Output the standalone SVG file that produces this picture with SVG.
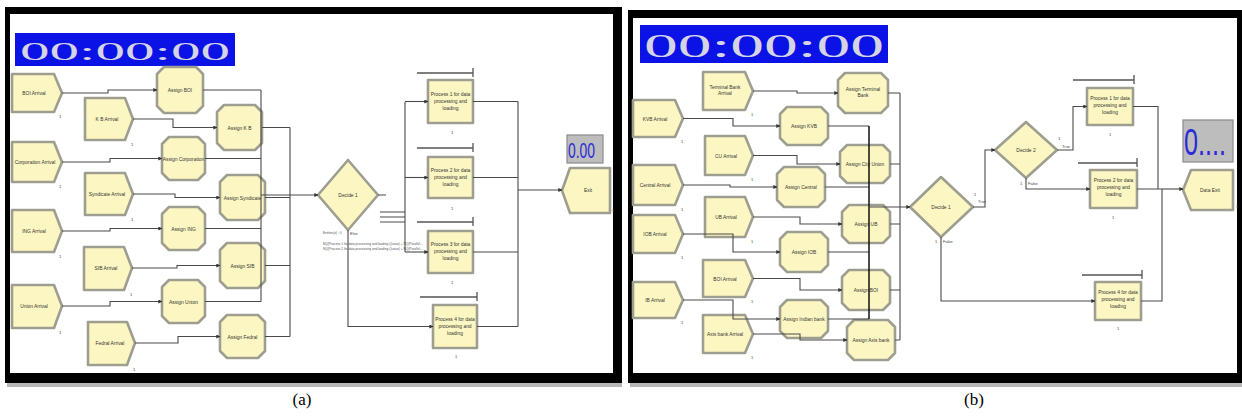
<svg xmlns="http://www.w3.org/2000/svg" width="1242" height="416" viewBox="0 0 1242 416">
<style>
.nd{fill:#fcf7c2;stroke:#9e9e90;stroke-width:2.6;stroke-linejoin:round}
.cn{fill:none;stroke:#4a4a4a;stroke-width:1.1}
.dk{fill:none;stroke:#111;stroke-width:1.5}
.q{fill:none;stroke:#555;stroke-width:1.3}
.lb{font-family:"Liberation Sans Narrow","Liberation Sans",sans-serif;font-size:4.9px;fill:#333;text-anchor:middle}
.sm{font-family:"Liberation Sans",sans-serif;font-size:4px;fill:#444}
.tiny{font-family:"Liberation Sans Narrow","Liberation Sans",sans-serif;font-size:3.2px;fill:#555}
.clk{fill:#0a12e6}
.clkt{font-family:"Liberation Serif",serif;fill:#d4d4e4}
.disp{fill:#bdbdbd;stroke:#8a8a8a;stroke-width:1.2}
.dispt{font-family:"Liberation Sans Narrow","Liberation Sans",sans-serif;fill:#2a2ad8}
.cap{font-family:"Liberation Serif",serif;font-size:17px;fill:#000;text-anchor:middle}
</style>
<defs>
<marker id="ar" viewBox="0 0 6 6" refX="5.5" refY="3" markerWidth="4" markerHeight="4" orient="auto" markerUnits="userSpaceOnUse">
<path d="M0,0 L6,3 L0,6 z" fill="#333"/>
</marker>
</defs>
<rect width="1242" height="416" fill="#fff"/>
<!-- frames -->
<g id="frame-a">
<rect x="7" y="383" width="615" height="4" fill="#b8b8b8"/>
<path d="M5,7 H622 V383 H5 Z M10,14 V373 H613 V14 Z" fill="#000" fill-rule="evenodd"/>
</g>
<g id="frame-b">
<rect x="630" y="383" width="612" height="4" fill="#b8b8b8"/>
<path d="M628,10 H1242 V383 H628 Z M633,18 V373 H1237 V18 Z" fill="#000" fill-rule="evenodd"/>
</g>
<!-- clocks -->
<g id="clock-a">
<rect class="clk" x="15" y="33" width="220" height="33"/>
<text class="clkt" x="20" y="60" font-size="26" textLength="210" lengthAdjust="spacingAndGlyphs">00:00:00</text>
</g>
<g id="clock-b">
<rect class="clk" x="640" y="25" width="248" height="38"/>
<text class="clkt" x="644" y="57" font-size="34" textLength="240" lengthAdjust="spacingAndGlyphs">00:00:00</text>
</g>
<!-- displays -->
<g id="disp-a">
<rect class="disp" x="567" y="135" width="36" height="28"/>
<text class="dispt" x="568" y="158" font-size="22" textLength="27" lengthAdjust="spacingAndGlyphs">0.00</text>
</g>
<g id="disp-b">
<rect class="disp" x="1183" y="120" width="50" height="42"/>
<text class="dispt" x="1184" y="155" font-size="36" textLength="42" lengthAdjust="spacingAndGlyphs">0....</text>
</g>

<!-- Panel A nodes -->
<g id="a-arr-boi"><polygon class="nd" points="12,74 54,74 62,93 54,112 12,112"/><text class="lb" x="34" y="95">BOI Arrival</text><text class="sm" x="59" y="118">1</text></g>
<g id="a-arr-kb"><polygon class="nd" points="85,98 125,98 133,119 125,140 85,140"/><text class="lb" x="107" y="121">K B Arrival</text><text class="sm" x="131" y="146">1</text></g>
<g id="a-arr-corp"><polygon class="nd" points="12,142 54,142 62,162 54,182 12,182"/><text class="lb" x="35" y="164">Corporation Arrival</text><text class="sm" x="59" y="188">1</text></g>
<g id="a-arr-syn"><polygon class="nd" points="85,173 125,173 133,194 125,215 85,215"/><text class="lb" x="107" y="196">Syndicate Arrival</text><text class="sm" x="131" y="221">1</text></g>
<g id="a-arr-ing"><polygon class="nd" points="12,210 54,210 62,231 54,252 12,252"/><text class="lb" x="34" y="233">ING Arrival</text><text class="sm" x="59" y="258">1</text></g>
<g id="a-arr-sib"><polygon class="nd" points="84,247 124,247 132,268 124,290 84,290"/><text class="lb" x="106" y="270">SIB Arrival</text><text class="sm" x="130" y="296">1</text></g>
<g id="a-arr-union"><polygon class="nd" points="12,285 54,285 62,306 54,328 12,328"/><text class="lb" x="34" y="308">Union Arrival</text><text class="sm" x="59" y="334">1</text></g>
<g id="a-arr-fed"><polygon class="nd" points="88,322 127,322 135,343 127,365 88,365"/><text class="lb" x="110" y="345">Fedral Arrival</text><text class="sm" x="133" y="371">1</text></g>

<g id="a-as-boi"><polygon class="nd" points="164,67 196,67 203,74 203,106 196,113 164,113 157,106 157,74"/><text class="lb" x="180" y="92">Assign BOI</text></g>
<g id="a-as-kb"><polygon class="nd" points="224,105 255,105 262,112 262,143 255,150 224,150 217,143 217,112"/><text class="lb" x="239.5" y="129.5">Assign K B</text></g>
<g id="a-as-corp"><polygon class="nd" points="169,137 198,137 205,144 205,173 198,180 169,180 162,173 162,144"/><text class="lb" x="183.5" y="160.5">Assign Corporation</text></g>
<g id="a-as-syn"><polygon class="nd" points="227,175 258,175 265,182 265,213 258,220 227,220 220,213 220,182"/><text class="lb" x="242.5" y="199.5">Assign Syndicate</text></g>
<g id="a-as-ing"><polygon class="nd" points="169,207 198,207 205,214 205,243 198,250 169,250 162,243 162,214"/><text class="lb" x="183.5" y="230.5">Assign ING</text></g>
<g id="a-as-sib"><polygon class="nd" points="227,243 258,243 265,250 265,281 258,288 227,288 220,281 220,250"/><text class="lb" x="242.5" y="267.5">Assign SIB</text></g>
<g id="a-as-union"><polygon class="nd" points="169,280 198,280 205,287 205,316 198,323 169,323 162,316 162,287"/><text class="lb" x="183.5" y="303.5">Assign Union</text></g>
<g id="a-as-fed"><polygon class="nd" points="227,315 258,315 265,322 265,351 258,358 227,358 220,351 220,322"/><text class="lb" x="242.5" y="338.5">Assign Fedral</text></g>

<g id="a-decide1"><polygon class="nd" points="348,160 378,195 348,230 318,195"/><text class="lb" x="348" y="197">Decide 1</text><text class="sm" x="350" y="235">Else</text>
<text class="tiny" x="323" y="234">Entities(x) : 0</text>
<text class="tiny" x="323" y="245">NQ(Process 1 for data processing and loading.Queue) + NQ(Parallel...</text>
<text class="tiny" x="323" y="250">NQ(Process 2 for data processing and loading.Queue) + NQ(Parallel...</text></g>

<g id="a-p1"><rect class="nd" x="428" y="80" width="45" height="43"/><text class="lb" x="450.5" y="96">Process 1 for data</text><text class="lb" x="450.5" y="103">processing and</text><text class="lb" x="450.5" y="110">loading</text><text class="sm" x="451" y="134">1</text></g>
<g id="a-p2"><rect class="nd" x="428" y="157" width="45" height="41"/><text class="lb" x="450.5" y="172">Process 2 for data</text><text class="lb" x="450.5" y="179">processing and</text><text class="lb" x="450.5" y="186">loading</text><text class="sm" x="451" y="210">1</text></g>
<g id="a-p3"><rect class="nd" x="428" y="231" width="45" height="42"/><text class="lb" x="450.5" y="246">Process 3 for data</text><text class="lb" x="450.5" y="253">processing and</text><text class="lb" x="450.5" y="260">loading</text><text class="sm" x="451" y="284">1</text></g>
<g id="a-p4"><rect class="nd" x="433" y="305" width="44" height="43"/><text class="lb" x="455" y="321">Process 4 for data</text><text class="lb" x="455" y="328">processing and</text><text class="lb" x="455" y="335">loading</text><text class="sm" x="455" y="358">1</text></g>

<g id="a-exit"><polygon class="nd" points="562,190.5 570,168 610,168 610,213 570,213"/><text class="lb" x="588" y="192">Exit</text><text class="sm" x="612" y="212">1</text></g>

<!-- Panel B nodes -->
<g id="b-arr-tb"><polygon class="nd" points="703,72 745,72 753,91 745,110 703,110"/><text class="lb" x="725" y="89">Terminal Bank</text><text class="lb" x="725" y="95">Arrival</text><text class="sm" x="751" y="116">1</text></g>
<g id="b-arr-kvb"><polygon class="nd" points="633,100 675,100 683,118.5 675,137 633,137"/><text class="lb" x="655" y="120.5">KVB Arrival</text><text class="sm" x="681" y="143">1</text></g>
<g id="b-arr-cu"><polygon class="nd" points="705,136 745,136 753,155.5 745,175 705,175"/><text class="lb" x="726" y="157.5">CU Arrival</text><text class="sm" x="751" y="181">1</text></g>
<g id="b-arr-cen"><polygon class="nd" points="633,165 675,165 683,185 675,205 633,205"/><text class="lb" x="655" y="187">Central Arrival</text><text class="sm" x="681" y="211">1</text></g>
<g id="b-arr-ub"><polygon class="nd" points="705,197 745,197 753,217 745,237 705,237"/><text class="lb" x="726" y="219">UB Arrival</text><text class="sm" x="751" y="243">1</text></g>
<g id="b-arr-iob"><polygon class="nd" points="633,215 675,215 683,234 675,253 633,253"/><text class="lb" x="655" y="236">IOB Arrival</text><text class="sm" x="681" y="259">1</text></g>
<g id="b-arr-boi"><polygon class="nd" points="703,260 745,260 753,278.5 745,297 703,297"/><text class="lb" x="725" y="280.5">BOI Arrival</text><text class="sm" x="751" y="303">1</text></g>
<g id="b-arr-ib"><polygon class="nd" points="633,282 675,282 683,300 675,318 633,318"/><text class="lb" x="655" y="302">IB Arrival</text><text class="sm" x="681" y="324">1</text></g>
<g id="b-arr-axis"><polygon class="nd" points="703,315 745,315 753,334 745,353 703,353"/><text class="lb" x="725" y="336">Axis bank Arrival</text><text class="sm" x="751" y="359">1</text></g>

<g id="b-as-tb"><polygon class="nd" points="845,73 881,73 888,80 888,106 881,113 845,113 838,106 838,80"/><text class="lb" x="863" y="91">Assign Terminal</text><text class="lb" x="863" y="97">Bank</text></g>
<g id="b-as-kvb"><polygon class="nd" points="787,107 821,107 828,114 828,138 821,145 787,145 780,138 780,114"/><text class="lb" x="804" y="128">Assign KVB</text></g>
<g id="b-as-cu"><polygon class="nd" points="847,145 883,145 890,152 890,176 883,183 847,183 840,176 840,152"/><text class="lb" x="865" y="166">Assign City Union</text></g>
<g id="b-as-cen"><polygon class="nd" points="784,167 818,167 825,174 825,200 818,207 784,207 777,200 777,174"/><text class="lb" x="801" y="189">Assign Central</text></g>
<g id="b-as-ub"><polygon class="nd" points="849,205 883,205 890,212 890,236 883,243 849,243 842,236 842,212"/><text class="lb" x="866" y="226">Assign UB</text></g>
<g id="b-as-iob"><polygon class="nd" points="787,232 821,232 828,239 828,265 821,272 787,272 780,265 780,239"/><text class="lb" x="804" y="254">Assign IOB</text></g>
<g id="b-as-boi"><polygon class="nd" points="849,270 883,270 890,277 890,303 883,310 849,310 842,303 842,277"/><text class="lb" x="866" y="292">Assign BOI</text></g>
<g id="b-as-ib"><polygon class="nd" points="787,300 821,300 828,307 828,331 821,338 787,338 780,331 780,307"/><text class="lb" x="804" y="321">Assign Indian bank</text></g>
<g id="b-as-axis"><polygon class="nd" points="854,320 888,320 895,327 895,353 888,360 854,360 847,353 847,327"/><text class="lb" x="871" y="342">Assign Axis bank</text></g>

<g id="b-decide1"><polygon class="nd" points="941,177 973,207 941,237 910,207"/><text class="lb" x="941" y="209">Decide 1</text><text class="sm" x="974" y="196">1</text><text class="sm" x="978" y="203">True</text><text class="sm" x="935" y="243">1</text><text class="sm" x="943" y="243">False</text></g>
<g id="b-decide2"><polygon class="nd" points="1026,122 1057,150 1026,178 995,150"/><text class="lb" x="1026" y="152">Decide 2</text><text class="sm" x="1058" y="140">1</text><text class="sm" x="1062" y="148">True</text><text class="sm" x="1020" y="185">1</text><text class="sm" x="1028" y="185">False</text></g>

<g id="b-p1"><rect class="nd" x="1087" y="88" width="46" height="37"/><text class="lb" x="1110" y="100">Process 1 for data</text><text class="lb" x="1110" y="107">processing and</text><text class="lb" x="1110" y="114">loading</text><text class="sm" x="1109" y="136">1</text></g>
<g id="b-p2"><rect class="nd" x="1090" y="170" width="47" height="38"/><text class="lb" x="1113.5" y="182">Process 2 for data</text><text class="lb" x="1113.5" y="189">processing and</text><text class="lb" x="1113.5" y="196">loading</text><text class="sm" x="1112" y="219">1</text></g>
<g id="b-p4"><rect class="nd" x="1095" y="282" width="46" height="38"/><text class="lb" x="1118" y="294">Process 4 for data</text><text class="lb" x="1118" y="301">processing and</text><text class="lb" x="1118" y="308">loading</text><text class="sm" x="1117" y="330">1</text></g>

<g id="b-exit"><polygon class="nd" points="1183,190 1191,170 1233,170 1233,210 1191,210"/><text class="lb" x="1210" y="192">Data Exit</text><text class="sm" x="1236" y="208">1</text></g>

<!-- connectors -->
<g id="connectors">
<path class="cn" marker-end="url(#ar)" d="M62,93 H108 V90 H157"/>
<path class="cn" marker-end="url(#ar)" d="M133,119 H173 V127.5 H217"/>
<path class="cn" marker-end="url(#ar)" d="M62,162 H110 V158.5 H162"/>
<path class="cn" marker-end="url(#ar)" d="M133,194 H175 V197.5 H220"/>
<path class="cn" marker-end="url(#ar)" d="M62,231 H110 V228.5 H162"/>
<path class="cn" marker-end="url(#ar)" d="M132,268 H177 V265.5 H220"/>
<path class="cn" marker-end="url(#ar)" d="M62,306 H110 V301.5 H162"/>
<path class="cn" marker-end="url(#ar)" d="M135,343 H178 V336.5 H220"/>
<path class="cn" d="M203,90 H261 M205,158.5 H261 M205,228.5 H261 M205,301.5 H261 M261,90 V301.5"/>
<path class="cn" d="M262,127.5 H290 M265,197.5 H290 M265,265.5 H290 M265,336.5 H290 M290,127.5 V336.5"/>
<path class="cn" marker-end="url(#ar)" d="M261,195 H318"/>
<path class="cn" d="M378,195 H386 M380,212 H405 M380,217 H405 M380,222 H405 M405,102 V252"/>
<path class="cn" marker-end="url(#ar)" d="M405,101.5 H428"/>
<path class="cn" marker-end="url(#ar)" d="M405,177.5 H428"/>
<path class="cn" marker-end="url(#ar)" d="M405,252 H428"/>
<path class="cn" marker-end="url(#ar)" d="M348,230 V326.5 H433"/>
<path class="q" d="M417,73 H473 M473,68 V77 M417,148 H473 M473,143 V152 M417,222 H473 M473,217 V226 M420,297 H477 M477,292 V301"/>
<path class="cn" d="M473,101.5 H518 M473,177.5 H518 M473,252 H518 M477,326.5 H518 M518,101.5 V326.5"/>
<path class="cn" marker-end="url(#ar)" d="M518,190 H562"/>

<path class="cn" marker-end="url(#ar)" d="M753,91 H797 V93 H838"/>
<path class="cn" marker-end="url(#ar)" d="M683,118.5 H733 V126 H780"/>
<path class="cn" marker-end="url(#ar)" d="M753,155.5 H797 V164 H840"/>
<path class="cn" marker-end="url(#ar)" d="M683,185 H730 V187 H777"/>
<path class="cn" marker-end="url(#ar)" d="M753,217 H800 V224 H842"/>
<path class="cn" marker-end="url(#ar)" d="M683,234 H733 V252 H780"/>
<path class="cn" marker-end="url(#ar)" d="M753,278.5 H800 V290 H842"/>
<path class="cn" marker-end="url(#ar)" d="M683,300 H733 V319 H780"/>
<path class="cn" marker-end="url(#ar)" d="M753,334 H800 V340 H847"/>
<path class="cn" d="M828,126 H869 M825,187 H869 M828,252 H869 M828,319 H869"/>
<path class="dk" d="M869,126 V319"/>
<path class="cn" d="M888,93 H900 M890,164 H900 M890,224 H900 M890,290 H900 M895,340 H900 M900,93 V340"/>
<path class="cn" marker-end="url(#ar)" d="M869,207 H910"/>
<path class="cn" marker-end="url(#ar)" d="M973,207 H985 V150 H995"/>
<path class="cn" marker-end="url(#ar)" d="M1057,150 H1073 V106.5 H1087"/>
<path class="cn" marker-end="url(#ar)" d="M1026,178 V189 H1090"/>
<path class="cn" marker-end="url(#ar)" d="M941,237 V301 H1095"/>
<path class="q" d="M1073,80 H1134 M1134,75 V84 M1078,163 H1137 M1137,158 V167 M1082,275 H1142 M1142,270 V279"/>
<path class="cn" d="M1133,106.5 H1158 V189 M1141,301 H1162 V189 M1137,189 H1162"/>
<path class="cn" marker-end="url(#ar)" d="M1162,189 H1183"/>
</g>

<text class="cap" x="302" y="405">(a)</text>
<text class="cap" x="974" y="405">(b)</text>
</svg>
